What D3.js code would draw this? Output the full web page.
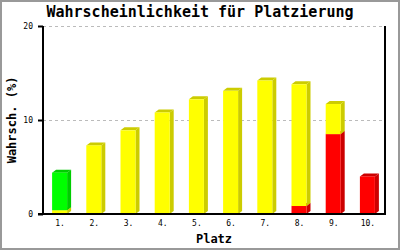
<!DOCTYPE html>
<html>
<head>
<meta charset="utf-8">
<script src="https://cdn.jsdelivr.net/npm/d3@7"></script>
<style>
	body{margin:0;background:#fff;}
	text{font-family:"DejaVu Sans Mono",monospace;fill:#000;}
</style>
</head>
<body>
<div id="idChart"></div>
<script>
var aPlaces=["1.","2.","3.","4.","5.","6.","7.","8.","9.","10."];
var aRed=[0,0,0,0,0,0,0,0.85,8.5,4.0];
var aYellow=[0.4,7.3,8.9,10.8,12.2,13.1,14.2,12.95,3.2,0];
var aGreen=[4.0,0,0,0,0,0,0,0,0,0];
var aYTicks=[0,10,20];

var iWidth=400;
var iHeight=250;
var iLeft=43, iRight=385, iTop=26, iBottom=214;
var iBarW=15, iDX=4, iDY=3;

var aSeries=[
	{sKey:"red", aValues:aRed, sFront:"#ff0000", sSide:"#cc0000"},
	{sKey:"yellow", aValues:aYellow, sFront:"#ffff00", sSide:"#cccc00"},
	{sKey:"green", aValues:aGreen, sFront:"#00ff00", sSide:"#00cc00"}
];

var myRows=aPlaces.map(function(sPlace,i){
	var oRow={sPlace:sPlace};
	aSeries.forEach(function(oS){oRow[oS.sKey]=oS.aValues[i];});
	return oRow;
});

var myStack=d3.stack().keys(aSeries.map(function(oS){return oS.sKey;}))(myRows);

var myCanvas=d3.select("#idChart").append("svg")
	.attr("width",iWidth)
	.attr("height",iHeight);

myCanvas.append("rect")
	.attr("x",1).attr("y",1)
	.attr("width",iWidth-2).attr("height",iHeight-2)
	.attr("fill","#fff").attr("stroke","#999").attr("stroke-width",2);

var xAxes=d3.scaleBand().domain(aPlaces).range([iLeft,iRight]);
var yAxes=d3.scaleLinear().domain([0,20]).range([iBottom,iTop]);

// grid
myCanvas.selectAll(".grid")
	.data(aYTicks.filter(function(v){return v>0;}))
	.enter().append("line")
	.attr("x1",iLeft).attr("x2",iRight)
	.attr("y1",function(v){return yAxes(v)+0.5;})
	.attr("y2",function(v){return yAxes(v)+0.5;})
	.attr("stroke","#bbb").attr("stroke-dasharray","3,3");

// bars
myStack.forEach(function(oLayer,iL){
	var oS=aSeries[iL];
	var myG=myCanvas.append("g");
	oLayer.forEach(function(d,i){
		if(d[1]-d[0]<=0) return;
		var x=xAxes(aPlaces[i])+xAxes.bandwidth()/2-8;
		var y0=yAxes(d[0]);
		var y1=yAxes(d[1]);
		myG.append("polygon")
			.attr("points",[[x+iBarW,y0],[x+iBarW+iDX,y0-iDY],[x+iBarW+iDX,y1-iDY],[x+iBarW,y1]].join(" "))
			.attr("fill",oS.sSide);
		myG.append("polygon")
			.attr("points",[[x,y1],[x+iDX,y1-iDY],[x+iBarW+iDX,y1-iDY],[x+iBarW,y1]].join(" "))
			.attr("fill",oS.sSide);
		myG.append("rect")
			.attr("x",x).attr("y",y1)
			.attr("width",iBarW).attr("height",y0-y1)
			.attr("fill",oS.sFront);
	});
});

// axes
var yAxis=myCanvas.append("g")
	.attr("transform","translate("+iLeft+",0)")
	.call(d3.axisLeft(yAxes).tickValues(aYTicks).tickSize(5).tickPadding(5));
var xAxis=myCanvas.append("g")
	.attr("transform","translate(0,"+iBottom+")")
	.call(d3.axisBottom(xAxes).tickSize(0).tickPadding(6));

[yAxis,xAxis].forEach(function(myAxis){
	myAxis.select(".domain").remove();
	myAxis.selectAll("line").attr("stroke","#000").attr("stroke-width",2);
	myAxis.selectAll("text").style("font-family","DejaVu Sans Mono").style("font-size","8px").attr("fill","#000");
});

myCanvas.append("line")
	.attr("x1",iLeft).attr("x2",iLeft).attr("y1",iTop).attr("y2",iBottom)
	.attr("stroke","#000").attr("stroke-width",2);
myCanvas.append("line")
	.attr("x1",iLeft-5).attr("x2",iRight).attr("y1",iBottom).attr("y2",iBottom)
	.attr("stroke","#000").attr("stroke-width",2);
myCanvas.append("line")
	.attr("x1",iRight).attr("x2",iRight).attr("y1",iTop).attr("y2",iBottom+1)
	.attr("stroke","#000").attr("stroke-width",2);

// titles
myCanvas.append("text")
	.attr("x",iWidth/2).attr("y",17)
	.attr("text-anchor","middle")
	.style("font-size","15px").style("font-weight","bold")
	.text("Wahrscheinlichkeit für Platzierung");

myCanvas.append("text")
	.attr("x",(iLeft+iRight)/2).attr("y",243)
	.attr("text-anchor","middle")
	.style("font-size","12px").style("font-weight","bold")
	.text("Platz");

myCanvas.append("text")
	.attr("transform","translate(16,"+((iTop+iBottom)/2)+") rotate(-90)")
	.attr("text-anchor","middle")
	.style("font-size","12px").style("font-weight","bold")
	.text("Wahrsch. (%)");
</script>
</body>
</html>
